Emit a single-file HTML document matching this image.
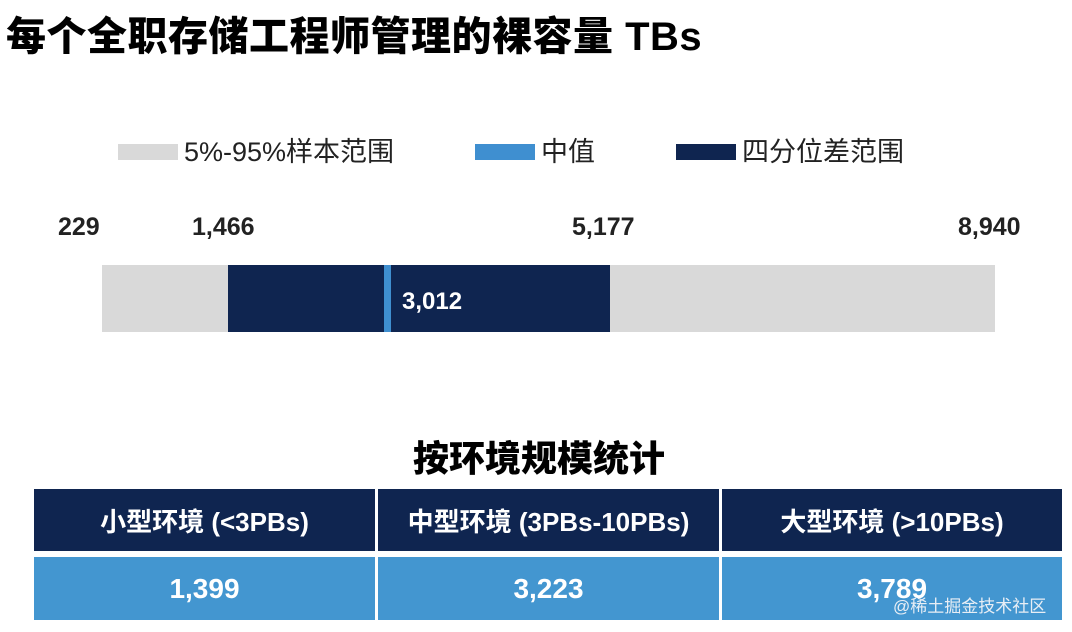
<!DOCTYPE html>
<html><head><meta charset="utf-8"><style>
body{margin:0;width:1072px;height:632px;background:#fff;position:relative;overflow:hidden;font-family:"Liberation Sans","Noto Sans CJK SC",sans-serif;}
.a{position:absolute;white-space:nowrap;}
.t{left:6px;top:4px;font-size:40px;font-weight:900;color:#000;letter-spacing:0.5px;}
.lg{top:130px;font-size:27px;color:#222;}
.sw{position:absolute;height:16px;width:60px;top:144px;}
.n{top:213px;font-size:25px;font-weight:bold;color:#222;}
.cell{position:absolute;display:flex;align-items:center;justify-content:center;color:#fff;font-weight:bold;}
</style></head><body>
<div class="a t">每个全职存储工程师管理的裸容量 TBs</div>
<div class="sw" style="left:118px;background:#d9d9d9"></div>
<div class="a lg" style="left:184px">5%-95%样本范围</div>
<div class="sw" style="left:475px;background:#3f8fd0"></div>
<div class="a lg" style="left:541px">中值</div>
<div class="sw" style="left:676px;background:#0f2550"></div>
<div class="a lg" style="left:742px">四分位差范围</div>
<div class="a n" style="left:58px">229</div>
<div class="a n" style="left:192px">1,466</div>
<div class="a n" style="left:572px">5,177</div>
<div class="a n" style="left:958px">8,940</div>
<div class="a" style="left:102px;top:265px;width:893px;height:67px;background:#d9d9d9"></div>
<div class="a" style="left:228px;top:265px;width:382px;height:67px;background:#0f2550"></div>
<div class="a" style="left:384px;top:265px;width:7px;height:67px;background:#3f8fd0"></div>
<div class="a" style="left:402px;top:288px;font-size:24px;font-weight:bold;color:#fff">3,012</div>
<div class="a" style="left:0;width:1078px;top:430px;text-align:center;font-size:36px;font-weight:900;color:#000">按环境规模统计</div>
<div class="cell" style="left:34px;top:489px;width:341px;height:62px;background:#0f2550;font-size:26px">小型环境 (&lt;3PBs)</div>
<div class="cell" style="left:378px;top:489px;width:341px;height:62px;background:#0f2550;font-size:26px">中型环境 (3PBs-10PBs)</div>
<div class="cell" style="left:722px;top:489px;width:340px;height:62px;background:#0f2550;font-size:26px">大型环境 (&gt;10PBs)</div>
<div class="cell" style="left:34px;top:557px;width:341px;height:63px;background:#4396d0;font-size:28px">1,399</div>
<div class="cell" style="left:378px;top:557px;width:341px;height:63px;background:#4396d0;font-size:28px">3,223</div>
<div class="cell" style="left:722px;top:557px;width:340px;height:63px;background:#4396d0;font-size:28px">3,789</div>
<div class="a" style="left:893px;top:592px;font-size:17px;color:#e8eef5">@稀土掘金技术社区</div>
</body></html>
